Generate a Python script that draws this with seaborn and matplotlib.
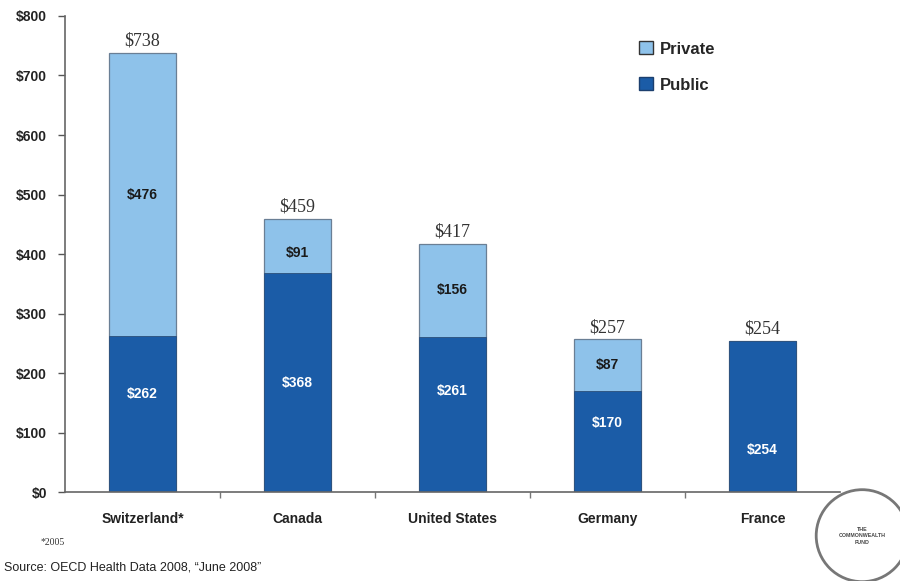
import matplotlib
matplotlib.use("Agg")
import matplotlib.pyplot as plt
import seaborn as sns
import pandas as pd
import numpy as np
from matplotlib.patches import Circle, Patch

countries = ["Switzerland*", "Canada", "United States", "Germany", "France"]
public = [262, 368, 261, 170, 254]
private = [476, 91, 156, 87, 0]
y_ticks = [0, 100, 200, 300, 400, 500, 600, 700, 800]

# where inside each segment its value label sits (fraction of segment height)
public_label_frac = [0.63, 0.50, 0.65, 0.68, 0.28]
private_label_frac = [0.50, 0.38, 0.50, 0.50, 0.50]

totals = [a + b for a, b in zip(public, private)]
df = pd.DataFrame({"country": countries, "public": public,
                   "private": private, "total": totals})

c_private = "#8ec2ea"
c_public = "#1b5ca7"

sns.set_theme(style="white")
plt.rcParams["font.family"] = ["Liberation Sans", "DejaVu Sans"]

fig = plt.figure(figsize=(9, 5.81), dpi=100)
ax = fig.add_axes([0.0722, 0.153, 0.861, 0.8195])

# stacked bars: totals in the private colour, public share drawn over them
sns.barplot(data=df, x="country", y="total", color=c_private, width=0.43,
            saturation=1, edgecolor="#6a7f95", linewidth=0.9, ax=ax)
sns.barplot(data=df, x="country", y="public", color=c_public, width=0.43,
            saturation=1, edgecolor="#2b4f7a", linewidth=0.6, ax=ax)

ax.set_xlim(-0.5, 4.5)
ax.set_ylim(0, 800)
ax.set_yticks(y_ticks)
ax.set_yticklabels([f"${v}" for v in y_ticks], fontsize=10, fontweight="bold",
                   color="#222222")
ax.set_xticks(range(len(countries)))
ax.set_xticklabels(countries, fontsize=10, fontweight="bold", color="#222222")
ax.set_xticks(np.arange(0.5, len(countries) - 0.5, 1), minor=True)
ax.tick_params(axis="x", which="major", length=0, pad=14)
ax.tick_params(axis="x", which="minor", length=4, color="#777777", width=1,
               direction="out", bottom=True)
ax.tick_params(axis="y", length=5, color="#555555", width=1, direction="out",
               left=True, pad=8)
ax.set_xlabel("")
ax.set_ylabel("")
for s in ["top", "right"]:
    ax.spines[s].set_visible(False)
for s in ["left", "bottom"]:
    ax.spines[s].set_color("#666666")
    ax.spines[s].set_linewidth(1.2)

# value labels
for i, (pu, pr, tot) in enumerate(zip(public, private, totals)):
    ax.text(i, tot + 5, f"${tot}", ha="center", va="bottom", fontsize=13,
            family=["Liberation Serif", "DejaVu Serif"], color="#333333")
    ax.text(i, pu * public_label_frac[i], f"${pu}", ha="center",
            va="center", fontsize=10, fontweight="bold", color="white")
    if pr > 0:
        ax.text(i, pu + pr * private_label_frac[i], f"${pr}", ha="center",
                va="center", fontsize=10, fontweight="bold", color="#1a1a1a")

# legend
handles = [Patch(facecolor=c_private, edgecolor="#333333", label="Private"),
           Patch(facecolor=c_public, edgecolor="#1c3f6e", label="Public")]
ax.legend(handles=handles, loc="upper left", bbox_to_anchor=(0.722, 0.978),
          frameon=False, prop={"weight": "bold", "size": 12},
          handlelength=0.8, handleheight=0.8, labelspacing=1.25,
          handletextpad=0.4)

# footnotes
fig.text(0.045, 0.062, "*2005", fontsize=7, family=["Liberation Serif"],
         color="#333333")
fig.text(0.005, 0.018, "Source: OECD Health Data 2008, \u201cJune 2008\u201d",
         fontsize=9, color="#222222")

# fund emblem
circ = Circle((0.958 * 9, 0.078 * 5.81), 0.46, transform=fig.dpi_scale_trans,
              fill=False, edgecolor="#777777", linewidth=2, clip_on=False)
fig.patches.append(circ)
fig.text(0.958, 0.078, "THE\nCOMMONWEALTH\nFUND", ha="center", va="center",
         fontsize=3.8, fontweight="bold", color="#444444", linespacing=1.4)

fig.savefig("out.png", dpi=100)
